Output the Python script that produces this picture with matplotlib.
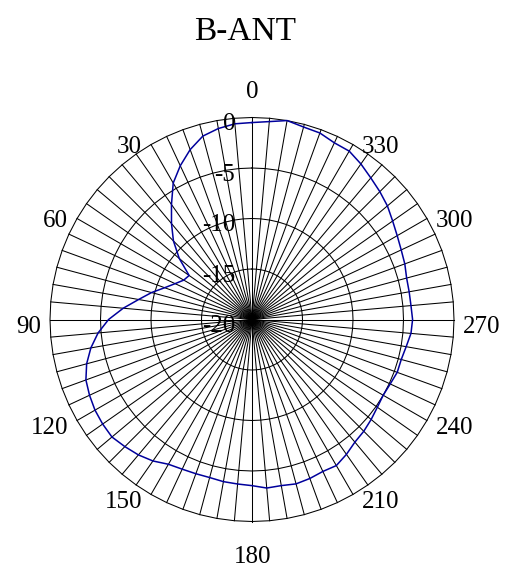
import numpy as np
import matplotlib
matplotlib.use('Agg')
import matplotlib.pyplot as plt

# ---------------------------------------------------------------------------
# Data (gain in dB, every 5 degrees)
# ---------------------------------------------------------------------------
title = "B-ANT"
angles_deg = list(range(0, 360, 5))
gain_db = [
    -0.5, -0.55, -0.8, -1.2, -2.1, -3.2, -4.4, -6.1, -7.6, -9.0,      # 0..45
    -10.6, -12.4, -12.2, -11.6, -10.8, -9.7, -8.6, -7.2, -5.8, -4.7,  # 50..95
    -3.8, -3.05, -2.5, -2.25, -2.05, -1.95, -1.9, -2.2, -2.5, -2.9,   # 100..145
    -3.45, -3.65, -3.75, -3.8, -3.7, -3.65, -3.55, -3.25, -3.3, -3.15,  # 150..195
    -3.25, -3.4, -3.3, -3.7, -4.15, -4.35, -4.6, -4.85, -5.0, -4.9,   # 200..245
    -4.7, -4.7, -4.5, -4.2, -4.1, -4.2, -4.2, -4.15, -3.9, -3.7,      # 250..295
    -3.4, -3.0, -2.5, -2.1, -1.7, -1.2, -0.75, -0.7, -0.35, -0.27,    # 300..345
    0.0, -0.33,                                                       # 350..355
]
ring_levels = [-15, -10, -5, 0]
radial_labels = ["0", "-5", "-10", "-15", "-20"]
radial_label_values = [0, -5, -10, -15, -20]
angle_labels = list(range(0, 360, 30))
spoke_step = 5
r_min, r_max = -20, 0

plt.rcParams['font.family'] = ['Liberation Serif', 'DejaVu Serif']

fig = plt.figure(figsize=(5.08, 5.70), dpi=100)
ax = fig.add_axes([50 / 508, 48.5 / 570, 404 / 508, 404 / 570], projection='polar')
ax.set_theta_zero_location('N')
ax.set_theta_direction(1)
ax.set_rlim(r_min, r_max)
ax.grid(False)
ax.set_xticks([])
ax.set_yticks([])
ax.spines['polar'].set_visible(False)
ax.patch.set_visible(False)

# polygonal rings and spokes (straight segments between 5-degree spokes)
spoke_t = np.deg2rad(np.arange(0, 360 + spoke_step, spoke_step))
for lvl in ring_levels:
    ax.plot(spoke_t, np.full_like(spoke_t, lvl), color='black', lw=0.75, clip_on=False)
for t in spoke_t[:-1]:
    ax.plot([t, t], [r_min, r_max], color='black', lw=0.75, clip_on=False)

# pattern
th = np.deg2rad(angles_deg + [angles_deg[0] + 360])
rr = gain_db + [gain_db[0]]
ax.plot(th, rr, color='#00009c', lw=1.1, clip_on=False, zorder=5)

# radial labels along the 0-degree spoke
for lab, val in zip(radial_labels, radial_label_values):
    ax.annotate(lab, xy=(0, val), xytext=(-17, -6.7), textcoords='offset pixels',
                ha='right', va='center', fontsize=18, annotation_clip=False, zorder=6)

# angle labels
for a in angle_labels:
    if a == 0:
        off, ha = (0.7, 25.8), 'center'
    elif a == 180:
        off, ha = (0.7, -35.2), 'center'
    else:
        left = a < 180
        ha = 'right' if left else 'left'
        dx = -9 if left else 9
        if a in (90, 270):
            dy = -7.2
        elif 90 < a < 270:
            dy = -7.7
        else:
            dy = -2.7
        off = (dx, dy)
    ax.annotate(str(a), xy=(np.deg2rad(a), r_max), xytext=off, textcoords='offset pixels',
                ha=ha, va='center', fontsize=18, annotation_clip=False)

fig.text(245 / 508, 1 - 31.4 / 570, title, ha='center', va='center', fontsize=24)

fig.savefig('out.png', dpi=100)
plt.close(fig)
